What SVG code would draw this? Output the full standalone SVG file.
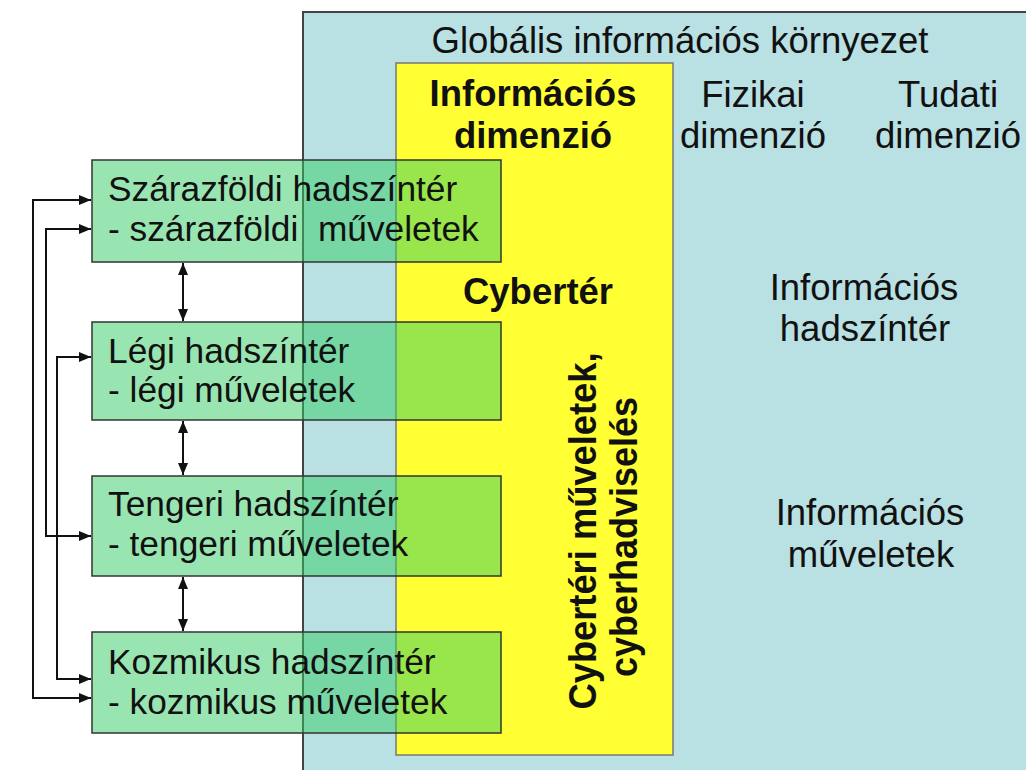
<svg xmlns="http://www.w3.org/2000/svg" width="1026" height="770" viewBox="0 0 1026 770">
<style>
.t{font-family:"Liberation Sans",Arial,sans-serif;font-size:36.5px;fill:#111;}
.bx{font-size:35.3px;}
.v{font-size:39px;}
.b{font-weight:bold;}
.c{text-anchor:middle;}
.box{fill:#33cc66;fill-opacity:0.5;stroke:#333;stroke-width:1.5;}
.ln{fill:none;stroke:#111;stroke-width:2;}
</style>
<defs>
<marker id="ah" viewBox="0 0 12 10" refX="12" refY="5" markerWidth="12" markerHeight="10" markerUnits="userSpaceOnUse" orient="auto-start-reverse">
<path d="M0,0 L12,5 L0,10 Z" fill="#111"/>
</marker>
</defs>
<rect width="1026" height="770" fill="#ffffff"/>
<g id="env">
<rect x="303" y="12" width="800" height="800" fill="#b9e0e3" stroke="#444" stroke-width="2"/>
<text class="t c" x="680" y="53">Globális információs környezet</text>
</g>
<g id="info-dim">
<rect x="396" y="63" width="277" height="692" fill="#ffff33" stroke="#777" stroke-width="1.5"/>
<text class="t b c" x="533" y="106">Információs</text>
<text class="t b c" x="533" y="148">dimenzió</text>
<text class="t b c" x="538" y="304">Cybertér</text>
<text class="t v b c" transform="translate(596,531) rotate(-90)" x="0" y="0" textLength="357" lengthAdjust="spacingAndGlyphs">Cybertéri műveletek,</text>
<text class="t v b c" transform="translate(637,537) rotate(-90)" x="0" y="0" textLength="280" lengthAdjust="spacingAndGlyphs">cyberhadviselés</text>
</g>
<g id="fizikai">
<text class="t c" x="753" y="107">Fizikai</text>
<text class="t c" x="753" y="148">dimenzió</text>
</g>
<g id="tudati">
<text class="t c" x="948" y="107">Tudati</text>
<text class="t c" x="948" y="148">dimenzió</text>
</g>
<g id="info-hadszinter">
<text class="t c" x="864" y="300">Információs</text>
<text class="t c" x="865" y="341">hadszíntér</text>
</g>
<g id="info-muveletek">
<text class="t c" x="870" y="525">Információs</text>
<text class="t c" x="871" y="567">műveletek</text>
</g>
<g id="szarazfoldi">
<rect class="box" x="92" y="160" width="409" height="102"/>
<text class="t bx" x="108" y="201">Szárazföldi hadszíntér</text>
<text class="t bx" x="108" y="241" xml:space="preserve">- szárazföldi  műveletek</text>
</g>
<g id="legi">
<rect class="box" x="92" y="322" width="409" height="98"/>
<text class="t bx" x="108" y="363">Légi hadszíntér</text>
<text class="t bx" x="108" y="402">- légi műveletek</text>
</g>
<g id="tengeri">
<rect class="box" x="92" y="476" width="409" height="100"/>
<text class="t bx" x="108" y="516">Tengeri hadszíntér</text>
<text class="t bx" x="108" y="556">- tengeri műveletek</text>
</g>
<g id="kozmikus">
<rect class="box" x="92" y="632" width="409" height="101"/>
<text class="t bx" x="108" y="674">Kozmikus hadszíntér</text>
<text class="t bx" x="108" y="714">- kozmikus műveletek</text>
</g>
<g id="connectors">
<path class="ln" d="M183,263 L183,321" marker-start="url(#ah)" marker-end="url(#ah)"/>
<path class="ln" d="M183,421 L183,475" marker-start="url(#ah)" marker-end="url(#ah)"/>
<path class="ln" d="M183,577 L183,631" marker-start="url(#ah)" marker-end="url(#ah)"/>
<path class="ln" d="M91,200 L33,200 L33,698 L91,698" marker-start="url(#ah)" marker-end="url(#ah)"/>
<path class="ln" d="M91,229 L46,229 L46,536 L91,536" marker-start="url(#ah)" marker-end="url(#ah)"/>
<path class="ln" d="M91,357 L57,357 L57,679 L91,679" marker-start="url(#ah)" marker-end="url(#ah)"/>
</g>
</svg>
